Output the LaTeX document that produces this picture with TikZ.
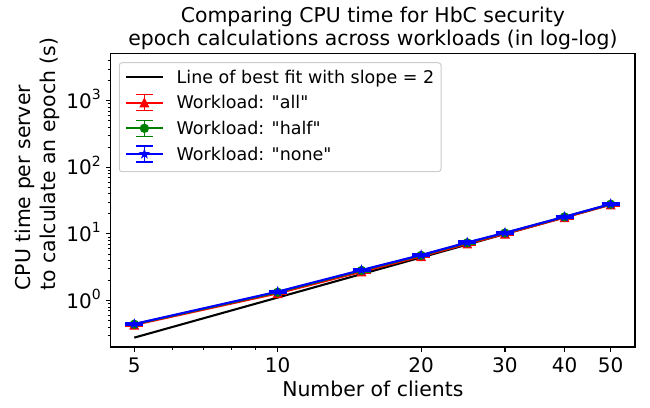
\documentclass[tikz,border=0pt]{standalone}
\usepackage{fontspec}
\setmainfont{DejaVu Sans}
\definecolor{mplred}{rgb}{1,0,0}
\definecolor{mplgreen}{rgb}{0,0.5,0}
\definecolor{mplblue}{rgb}{0,0,1}
\definecolor{legedge}{rgb}{0.8,0.8,0.8}
\newcommand\bigfont{\fontsize{20.4}{24.5}\selectfont}
\newcommand\tickfont{\fontsize{20}{24}\selectfont}
\newcommand\legfont{\fontsize{17.5}{21}\selectfont}
\newcommand\supfont{\fontsize{14}{16}\selectfont}
\newcommand\tenpow[1]{10\raisebox{8.5pt}{\supfont #1}}
\newcommand\qq[1]{\textquotedbl#1\textquotedbl}
\tikzset{
  txt/.style={inner sep=0pt, outer sep=0pt},
  spine/.style={line width=1.1pt, black, line cap=rect},
  majtick/.style={line width=1.1pt, black},
  mintick/.style={line width=0.8pt, black},
  serie/.style={line width=2.08pt, #1, line join=round},
  capline/.style={line width=2.08pt, #1},
  fitline/.style={line width=2.08pt, black},
  tri/.pic={\filldraw[line width=1pt, line join=miter] (0,4.15pt) -- (-4.15pt,-4.15pt) -- (4.15pt,-4.15pt) -- cycle;},
  dot/.pic={\filldraw[line width=1pt] (0,0) circle (4.15pt);},
  starmark/.pic={\filldraw[line width=1pt, line join=miter]
    (90:4.15pt) -- (126:1.585pt) -- (162:4.15pt) -- (198:1.585pt) -- (234:4.15pt)
    -- (270:1.585pt) -- (306:4.15pt) -- (342:1.585pt) -- (18:4.15pt) -- (54:1.585pt) -- cycle;},
}
\begin{document}
\begin{tikzpicture}[x=1pt, y=1pt]
\useasboundingbox (0,0) rectangle (650,407);

% title
\node[txt, anchor=base, font=\bigfont] (title1) at (372.9,384.3) {Comparing CPU time for HbC security};
\node[txt, anchor=base, font=\bigfont] (title2) at (372.9,361.3) {epoch calculations across workloads (in log-log)};

% axis labels
\node[txt, anchor=base, font=\bigfont] (xlabel) at (372.9,10.5) {Number of clients};
\node[txt, rotate=90, anchor=base west, font=\bigfont] (ylabel1) at (30.5,116.5) {CPU time per server};
\node[txt, rotate=90, anchor=base west, font=\bigfont] (ylabel2) at (55,116.5) {to calculate an epoch (s)};

% data area: x = log10(clients), y = log10(seconds)
\begin{scope}[shift={(-198.7pt,106.5pt)}, x=476.4pt, y=66.6pt]
  % x ticks
  \foreach \v in {5,10,20,30,40,50} {
    \draw[majtick] ({log10(\v)},-0.698) -- ++(0,-4.9pt);
    \path ({log10(\v)},-0.698) ++(0,-25.7pt) node[txt, anchor=base, font=\tickfont] (xt\v) {\v};
  }
  \foreach \v in {6,7,8,9}
    \draw[mintick] ({log10(\v)},-0.698) -- ++(0,-2.8pt);
  % y ticks
  \foreach \k in {0,1,2,3} {
    \draw[majtick] (0.6494,\k) -- ++(-4.9pt,0);
    \path (0.6494,\k) ++(-10pt,-7.5pt) node[txt, anchor=base east, font=\tickfont] (yt\k) {\tenpow{\k}};
  }
  \foreach \k in {-1,0,1,2,3}
    \foreach \m in {2,...,9} {
      \pgfmathsetmacro\ly{\k+log10(\m)}
      \ifdim\ly pt>-0.69pt \ifdim\ly pt<3.69pt
        \draw[mintick] (0.6494,\ly) -- ++(-2.8pt,0);
      \fi\fi
    }

  % best fit, slope 2
  \coordinate (f1) at ({log10(5)},{log10(0.277)});
  \coordinate (f2) at ({log10(50)},{log10(27.7)});
  \draw[fitline] (f1) -- (f2);

  % workload "all"
  \foreach \x/\y [count=\i] in {5/0.43,10/1.28,15/2.70,20/4.6,25/7.1,30/10.0,40/17.6,50/27.4}
    \coordinate (r\i) at ({log10(\x)},{log10(\y)});
  \draw[serie=mplred] (r1) \foreach \i in {2,...,8} { -- (r\i) };
  \foreach \i in {1,...,8} {
    \draw[capline=mplred] ([shift={(-9pt,1pt)}]r\i) -- ++(18pt,0) ([shift={(-9pt,-1pt)}]r\i) -- ++(18pt,0);
    \path (r\i) pic[color=mplred] {tri};
  }

  % workload "half"
  \foreach \x/\y [count=\i] in {5/0.44,10/1.33,15/2.82,20/4.75,25/7.35,30/10.3,40/18.0,50/27.9}
    \coordinate (g\i) at ({log10(\x)},{log10(\y)});
  \draw[serie=mplgreen] (g1) \foreach \i in {2,...,8} { -- (g\i) };
  \foreach \i in {1,...,8} {
    \draw[capline=mplgreen] ([shift={(-9pt,1pt)}]g\i) -- ++(18pt,0) ([shift={(-9pt,-1pt)}]g\i) -- ++(18pt,0);
    \path (g\i) pic[color=mplgreen] {dot};
  }

  % workload "none"
  \foreach \x/\y [count=\i] in {5/0.445,10/1.36,15/2.87,20/4.82,25/7.45,30/10.4,40/18.1,50/28.1}
    \coordinate (b\i) at ({log10(\x)},{log10(\y)});
  \draw[serie=mplblue] (b1) \foreach \i in {2,...,8} { -- (b\i) };
  \foreach \i in {1,...,8} {
    \draw[capline=mplblue] ([shift={(-9pt,1pt)}]b\i) -- ++(18pt,0) ([shift={(-9pt,-1pt)}]b\i) -- ++(18pt,0);
    \path (b\i) pic[color=mplblue] {starmark};
  }
\end{scope}

% axes frame
\draw[spine] (110.7,60) rectangle (635,353.5);

% legend frame
\draw[legedge, line width=1pt, fill=white, fill opacity=0.8, rounded corners=2.8pt] (119.3,235.3) rectangle (441,344.3);
% legend handles
\coordinate (l1) at (144.4,329.7);
\coordinate (l2) at (144.4,304.3);
\coordinate (l3) at (144.4,278.7);
\coordinate (l4) at (144.4,253);
\draw[fitline] ([xshift=-18.3pt]l1) -- ([xshift=18.3pt]l1);
\foreach \n/\c/\m in {2/mplred/tri, 3/mplgreen/dot, 4/mplblue/starmark} {
  \draw[serie=\c] ([xshift=-18.3pt]l\n) -- ([xshift=18.3pt]l\n);
  \draw[capline=\c, line width=1.5pt] ([yshift=-8pt]l\n) -- ([yshift=8pt]l\n);
  \draw[capline=\c, line width=1.5pt] ([shift={(-8.7pt,8pt)}]l\n) -- ++(17.4pt,0) ([shift={(-8.7pt,-8pt)}]l\n) -- ++(17.4pt,0);
  \path (l\n) pic[color=\c] {\m};
}
% legend labels
\node[txt, anchor=base west, font=\legfont] (leg1) at (176.7,323.7) {Line of best fit with slope = 2};
\node[txt, anchor=base west, font=\legfont] (leg2) at (176.7,298) {Workload: \qq{all}};
\node[txt, anchor=base west, font=\legfont] (leg3) at (176.7,272) {Workload: \qq{half}};
\node[txt, anchor=base west, font=\legfont] (leg4) at (176.7,246.3) {Workload: \qq{none}};
\end{tikzpicture}
\end{document}
